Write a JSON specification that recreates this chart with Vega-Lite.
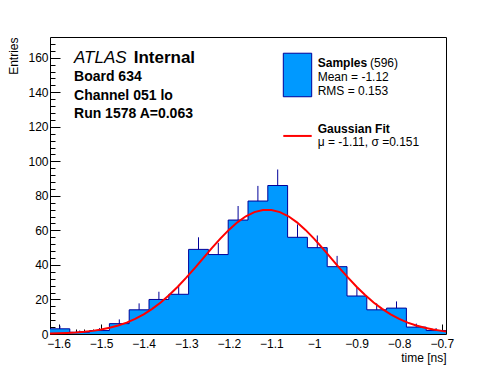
{
  "$schema": "https://vega.github.io/schema/vega-lite/v6.json",
  "width": 396,
  "height": 297,
  "autosize": "none",
  "padding": {"left": 50, "top": 37, "right": 50, "bottom": 38},
  "background": "white",
  "config": {
    "view": {"stroke": "black", "strokeWidth": 1},
    "font": "Liberation Sans",
    "axis": {
      "grid": false,
      "domainColor": "black",
      "tickColor": "black",
      "labelColor": "black",
      "titleColor": "black",
      "labelFont": "Liberation Sans",
      "titleFont": "Liberation Sans",
      "labelFontSize": 12,
      "titleFontSize": 12,
      "titleFontWeight": "normal",
      "labelOverlap": false,
      "labelFlush": false,
      "labelBound": false,
      "tickWidth": 1
    }
  },
  "resolve": {"axis": {"x": "independent", "y": "independent"}},
  "datasets": {
    "bins": [
      {"start": -1.62, "end": -1.5735, "mid": -1.59675, "count": 3, "hi": 4.73},
      {"start": -1.5735, "end": -1.527, "mid": -1.55025, "count": 1, "hi": 2},
      {"start": -1.527, "end": -1.4805, "mid": -1.50375, "count": 2, "hi": 3.41},
      {"start": -1.4805, "end": -1.434, "mid": -1.45725, "count": 6, "hi": 8.45},
      {"start": -1.434, "end": -1.3875, "mid": -1.41075, "count": 14, "hi": 17.74},
      {"start": -1.3875, "end": -1.341, "mid": -1.36425, "count": 20, "hi": 24.47},
      {"start": -1.341, "end": -1.2945, "mid": -1.31775, "count": 23, "hi": 27.8},
      {"start": -1.2945, "end": -1.248, "mid": -1.27125, "count": 49, "hi": 56},
      {"start": -1.248, "end": -1.2015, "mid": -1.22475, "count": 46, "hi": 52.78},
      {"start": -1.2015, "end": -1.155, "mid": -1.17825, "count": 66, "hi": 74.12},
      {"start": -1.155, "end": -1.1085, "mid": -1.13175, "count": 77, "hi": 85.77},
      {"start": -1.1085, "end": -1.062, "mid": -1.08525, "count": 86, "hi": 95.27},
      {"start": -1.062, "end": -1.0155, "mid": -1.03875, "count": 56, "hi": 63.48},
      {"start": -1.0155, "end": -0.969, "mid": -0.99225, "count": 50, "hi": 57.07},
      {"start": -0.969, "end": -0.9225, "mid": -0.94575, "count": 39, "hi": 45.24},
      {"start": -0.9225, "end": -0.876, "mid": -0.89925, "count": 22, "hi": 26.69},
      {"start": -0.876, "end": -0.8295, "mid": -0.85275, "count": 14, "hi": 17.74},
      {"start": -0.8295, "end": -0.783, "mid": -0.80625, "count": 15, "hi": 18.87},
      {"start": -0.783, "end": -0.7365, "mid": -0.75975, "count": 4, "hi": 6},
      {"start": -0.7365, "end": -0.69, "mid": -0.71325, "count": 2, "hi": 3.41}
    ],
    "outline": [
      {"x": -1.62, "count": 3}, {"x": -1.5735, "count": 1}, {"x": -1.527, "count": 2},
      {"x": -1.4805, "count": 6}, {"x": -1.434, "count": 14}, {"x": -1.3875, "count": 20},
      {"x": -1.341, "count": 23}, {"x": -1.2945, "count": 49}, {"x": -1.248, "count": 46},
      {"x": -1.2015, "count": 66}, {"x": -1.155, "count": 77}, {"x": -1.1085, "count": 86},
      {"x": -1.062, "count": 56}, {"x": -1.0155, "count": 50}, {"x": -0.969, "count": 39},
      {"x": -0.9225, "count": 22}, {"x": -0.876, "count": 14}, {"x": -0.8295, "count": 15},
      {"x": -0.783, "count": 4}, {"x": -0.7365, "count": 2}, {"x": -0.69, "count": 2}
    ],
    "fit": [
      {"x": -1.62, "y": 0.24}, {"x": -1.6, "y": 0.37}, {"x": -1.58, "y": 0.57}, {"x": -1.56, "y": 0.85},
      {"x": -1.54, "y": 1.25}, {"x": -1.52, "y": 1.81}, {"x": -1.5, "y": 2.56}, {"x": -1.48, "y": 3.58},
      {"x": -1.46, "y": 4.91}, {"x": -1.44, "y": 6.61}, {"x": -1.42, "y": 8.76}, {"x": -1.4, "y": 11.39},
      {"x": -1.38, "y": 14.55}, {"x": -1.36, "y": 18.28}, {"x": -1.34, "y": 22.57}, {"x": -1.32, "y": 27.37},
      {"x": -1.3, "y": 32.63}, {"x": -1.28, "y": 38.2}, {"x": -1.26, "y": 43.96}, {"x": -1.24, "y": 49.7},
      {"x": -1.22, "y": 55.22}, {"x": -1.2, "y": 60.29}, {"x": -1.18, "y": 64.66}, {"x": -1.16, "y": 68.16},
      {"x": -1.14, "y": 70.6}, {"x": -1.12, "y": 71.84}, {"x": -1.1, "y": 71.84}, {"x": -1.08, "y": 70.6},
      {"x": -1.06, "y": 68.16}, {"x": -1.04, "y": 64.66}, {"x": -1.02, "y": 60.29}, {"x": -1.0, "y": 55.22},
      {"x": -0.98, "y": 49.7}, {"x": -0.96, "y": 43.96}, {"x": -0.94, "y": 38.2}, {"x": -0.92, "y": 32.63},
      {"x": -0.9, "y": 27.37}, {"x": -0.88, "y": 22.57}, {"x": -0.86, "y": 18.28}, {"x": -0.84, "y": 14.55},
      {"x": -0.82, "y": 11.39}, {"x": -0.8, "y": 8.76}, {"x": -0.78, "y": 6.61}, {"x": -0.76, "y": 4.91},
      {"x": -0.74, "y": 3.58}, {"x": -0.72, "y": 2.56}, {"x": -0.7, "y": 1.81}, {"x": -0.69, "y": 1.5}
    ],
    "one": [{}]
  },
  "layer": [
    {
      "data": {"name": "outline"},
      "mark": {"type": "area", "interpolate": "step-after", "fill": "#0099ff", "strokeWidth": 0},
      "encoding": {
        "x": {
          "field": "x", "type": "quantitative",
          "scale": {"domain": [-1.62, -0.69], "nice": false, "zero": false},
          "axis": {
            "orient": "bottom", "title": null, "labels": false, "domain": false,
            "values": [-1.6, -1.5, -1.4, -1.3, -1.2, -1.1, -1.0, -0.9, -0.8, -0.7],
            "tickSize": 10, "offset": -10
          }
        },
        "y": {
          "field": "count", "type": "quantitative",
          "scale": {"domain": [0, 172], "nice": false, "zero": true},
          "axis": {
            "orient": "left", "title": null, "labels": false, "domain": false,
            "values": [0, 20, 40, 60, 80, 100, 120, 140, 160],
            "tickSize": 10, "offset": -10
          }
        },
        "y2": {"datum": 0}
      }
    },
    {
      "data": {"name": "outline"},
      "mark": {"type": "line", "interpolate": "step-after", "color": "#000099", "strokeWidth": 1},
      "encoding": {
        "x": {
          "field": "x", "type": "quantitative",
          "axis": {
            "orient": "bottom", "title": null, "labels": false, "domain": false,
            "values": [-1.62, -1.6, -1.58, -1.56, -1.54, -1.52, -1.5, -1.48, -1.46, -1.44, -1.42, -1.4, -1.38, -1.36, -1.34, -1.32, -1.3, -1.28, -1.26, -1.24, -1.22, -1.2, -1.18, -1.16, -1.14, -1.12, -1.1, -1.08, -1.06, -1.04, -1.02, -1.0, -0.98, -0.96, -0.94, -0.92, -0.9, -0.88, -0.86, -0.84, -0.82, -0.8, -0.78, -0.76, -0.74, -0.72, -0.7],
            "tickSize": 5, "offset": -5
          }
        },
        "y": {
          "field": "count", "type": "quantitative",
          "axis": {
            "orient": "left", "title": null, "labels": false, "domain": false,
            "values": [0, 4, 8, 12, 16, 20, 24, 28, 32, 36, 40, 44, 48, 52, 56, 60, 64, 68, 72, 76, 80, 84, 88, 92, 96, 100, 104, 108, 112, 116, 120, 124, 128, 132, 136, 140, 144, 148, 152, 156, 160, 164, 168],
            "tickSize": 5, "offset": -5
          }
        }
      }
    },
    {
      "data": {"name": "bins"},
      "mark": {"type": "rule", "color": "#000099", "strokeWidth": 1},
      "encoding": {
        "x": {
          "field": "mid", "type": "quantitative",
          "axis": {
            "orient": "bottom", "title": "time [ns]", "ticks": false, "domain": false,
            "values": [-1.6, -1.5, -1.4, -1.3, -1.2, -1.1, -1.0, -0.9, -0.8, -0.7],
            "format": ".1~f",
            "labelPadding": 4,
            "labelBaseline": "top",
            "titleX": 396,
            "titleY": 27,
            "titleAlign": "right",
            "titleAnchor": "end",
            "titleBaseline": "alphabetic"
          }
        },
        "y": {
          "field": "count", "type": "quantitative",
          "axis": {
            "orient": "left", "title": "Entries", "ticks": false, "domain": false,
            "values": [0, 20, 40, 60, 80, 100, 120, 140, 160],
            "labelPadding": 2,
            "titleAngle": -90,
            "titleX": -33,
            "titleY": 0,
            "titleAlign": "right",
            "titleAnchor": "end",
            "titleBaseline": "alphabetic"
          }
        },
        "y2": {"field": "hi"}
      }
    },
    {
      "data": {"name": "fit"},
      "mark": {"type": "line", "color": "#ff0000", "strokeWidth": 2},
      "encoding": {
        "x": {"field": "x", "type": "quantitative", "axis": null},
        "y": {"field": "y", "type": "quantitative", "axis": null}
      }
    },
    {
      "data": {"name": "one"},
      "mark": {"type": "text", "text": "ATLAS", "fontSize": 17, "fontStyle": "italic", "align": "left", "baseline": "alphabetic", "color": "black"},
      "encoding": {"x": {"datum": -1.5636, "axis": null}, "y": {"datum": 156.8, "axis": null}}
    },
    {
      "data": {"name": "one"},
      "mark": {"type": "text", "text": "Internal", "fontSize": 17, "fontWeight": "bold", "align": "left", "baseline": "alphabetic", "color": "black"},
      "encoding": {"x": {"datum": -1.4235, "axis": null}, "y": {"datum": 156.8, "axis": null}}
    },
    {
      "data": {"name": "one"},
      "mark": {"type": "text", "text": "Board 634", "fontSize": 14, "fontWeight": "bold", "align": "left", "baseline": "alphabetic", "color": "black"},
      "encoding": {"x": {"datum": -1.5636, "axis": null}, "y": {"datum": 146.7, "axis": null}}
    },
    {
      "data": {"name": "one"},
      "mark": {"type": "text", "text": "Channel 051 lo", "fontSize": 14, "fontWeight": "bold", "align": "left", "baseline": "alphabetic", "color": "black"},
      "encoding": {"x": {"datum": -1.5636, "axis": null}, "y": {"datum": 135.5, "axis": null}}
    },
    {
      "data": {"name": "one"},
      "mark": {"type": "text", "text": "Run 1578 A=0.063", "fontSize": 14, "fontWeight": "bold", "align": "left", "baseline": "alphabetic", "color": "black"},
      "encoding": {"x": {"datum": -1.5636, "axis": null}, "y": {"datum": 125.3, "axis": null}}
    },
    {
      "data": {"name": "one"},
      "mark": {"type": "rect", "fill": "#0099ff", "stroke": "#000099", "strokeWidth": 1},
      "encoding": {"x": {"datum": -1.0721, "axis": null}, "x2": {"datum": -1.0054}, "y": {"datum": 162.6, "axis": null}, "y2": {"datum": 137.4}}
    },
    {
      "data": {"name": "one"},
      "mark": {"type": "rule", "color": "#ff0000", "strokeWidth": 2},
      "encoding": {"x": {"datum": -1.0721, "axis": null}, "x2": {"datum": -1.0054}, "y": {"datum": 114.7, "axis": null}}
    },
    {
      "data": {"name": "one"},
      "mark": {"type": "text", "text": "Samples", "fontSize": 12, "fontWeight": "bold", "align": "left", "baseline": "alphabetic", "color": "black"},
      "encoding": {"x": {"datum": -0.9913, "axis": null}, "y": {"datum": 154.6, "axis": null}}
    },
    {
      "data": {"name": "one"},
      "mark": {"type": "text", "text": "(596)", "fontSize": 12, "align": "left", "baseline": "alphabetic", "color": "black"},
      "encoding": {"x": {"datum": -0.8685, "axis": null}, "y": {"datum": 154.6, "axis": null}}
    },
    {
      "data": {"name": "one"},
      "mark": {"type": "text", "text": "Mean = -1.12", "fontSize": 12, "align": "left", "baseline": "alphabetic", "color": "black"},
      "encoding": {"x": {"datum": -0.9913, "axis": null}, "y": {"datum": 146.6, "axis": null}}
    },
    {
      "data": {"name": "one"},
      "mark": {"type": "text", "text": "RMS = 0.153", "fontSize": 12, "align": "left", "baseline": "alphabetic", "color": "black"},
      "encoding": {"x": {"datum": -0.9913, "axis": null}, "y": {"datum": 138.6, "axis": null}}
    },
    {
      "data": {"name": "one"},
      "mark": {"type": "text", "text": "Gaussian Fit", "fontSize": 12, "fontWeight": "bold", "align": "left", "baseline": "alphabetic", "color": "black"},
      "encoding": {"x": {"datum": -0.9913, "axis": null}, "y": {"datum": 116.2, "axis": null}}
    },
    {
      "data": {"name": "one"},
      "mark": {"type": "text", "text": "μ = -1.11, σ =0.151", "fontSize": 12, "align": "left", "baseline": "alphabetic", "color": "black"},
      "encoding": {"x": {"datum": -0.9913, "axis": null}, "y": {"datum": 108.6, "axis": null}}
    }
  ]
}
